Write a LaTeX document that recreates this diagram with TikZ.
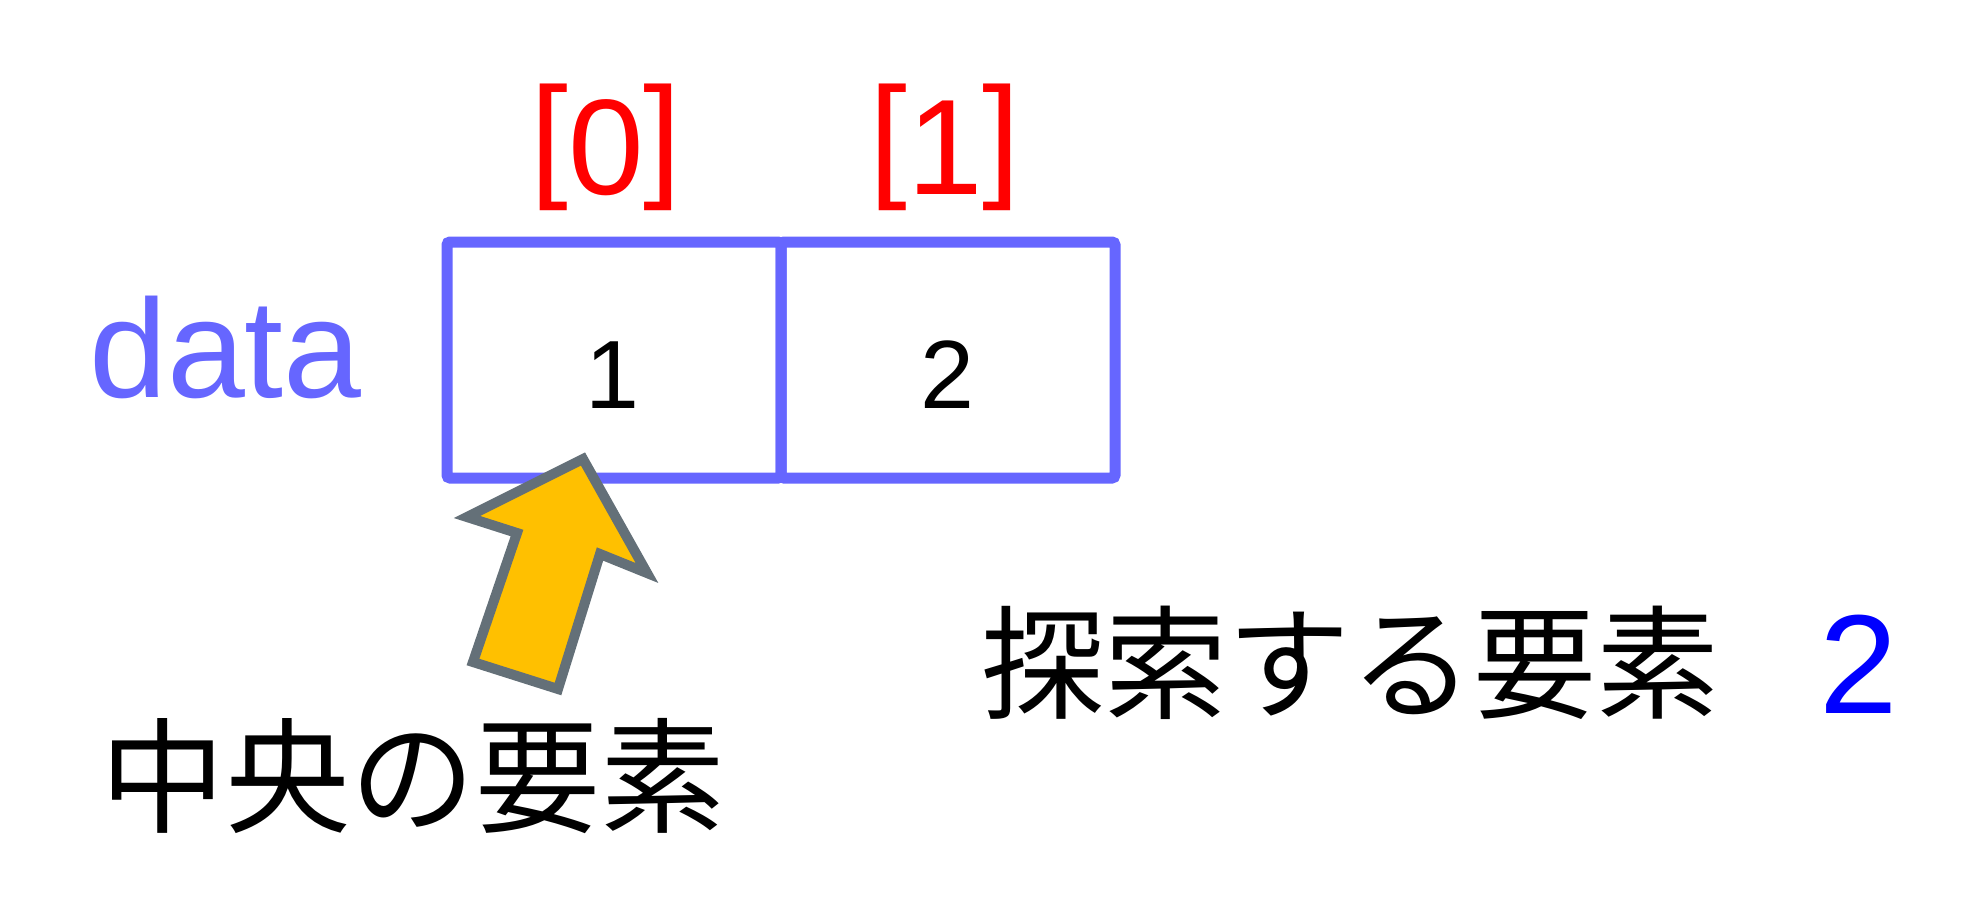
\documentclass[tikz,border=0pt]{standalone}
\usepackage{fontspec}
\setmainfont{Liberation Sans}
\newfontfamily\jpfont{Noto Sans CJK JP}
\definecolor{cellblue}{RGB}{102,102,255}
\definecolor{idxred}{RGB}{255,0,0}
\definecolor{valblue}{RGB}{0,0,255}
\definecolor{arrowfill}{RGB}{255,192,0}
\definecolor{arrowline}{RGB}{100,112,120}
\newcommand{\idxbr}[1]{\raisebox{12pt}{#1}}
\begin{document}
\begin{tikzpicture}[x=1pt, y=-1pt,
    cell/.style={draw=cellblue, line width=11pt, rounded corners=3pt,
      minimum width=334pt, minimum height=236pt, inner sep=0pt},
    txt/.style={inner sep=0pt, anchor=base}]
  \useasboundingbox (0,0) rectangle (1988,922);

  % Array cells
  \node[cell] (c0) at (614,360) {};
  \node[cell] (c1) at (948,360) {};

  \begin{scope}[every node/.style={txt, font=\fontsize{97}{97}\selectfont}]
    \node (v0) at (612,408) {1};
    \node (v1) at (947,408) {2};
  \end{scope}

  % Indices
  \begin{scope}[every node/.style={txt, text=idxred, font=\fontsize{136}{136}\selectfont}]
    \node (i0) at (606,194) {\idxbr{[}0\idxbr{]}};
    \node (i1) at (945,194) {\idxbr{[}1\idxbr{]}};
  \end{scope}

  \node[txt, anchor=base west, text=cellblue, font=\fontsize{140}{140}\selectfont]
    (name) at (89,397) {data};

  % Pointer to the middle element
  \draw[line width=10pt, draw=arrowline, fill=arrowfill, line join=miter]
    (583,459) -- (647,573) -- (600,554) -- (558,689) -- (473,662)
    -- (517,533) -- (467,517) -- cycle;

  % Labels
  \node[txt, anchor=base west, font=\jpfont\fontsize{125}{125}\selectfont]
    (mid) at (100,823) {中央の要素};
  \node[txt, anchor=base west, font=\jpfont\fontsize{123}{123}\selectfont]
    (goal) at (981,709) {探索する要素};
  \node[txt, anchor=base west, text=valblue, font=\fontsize{141}{141}\selectfont]
    (goalval) at (1819,713) {2};
\end{tikzpicture}
\end{document}
